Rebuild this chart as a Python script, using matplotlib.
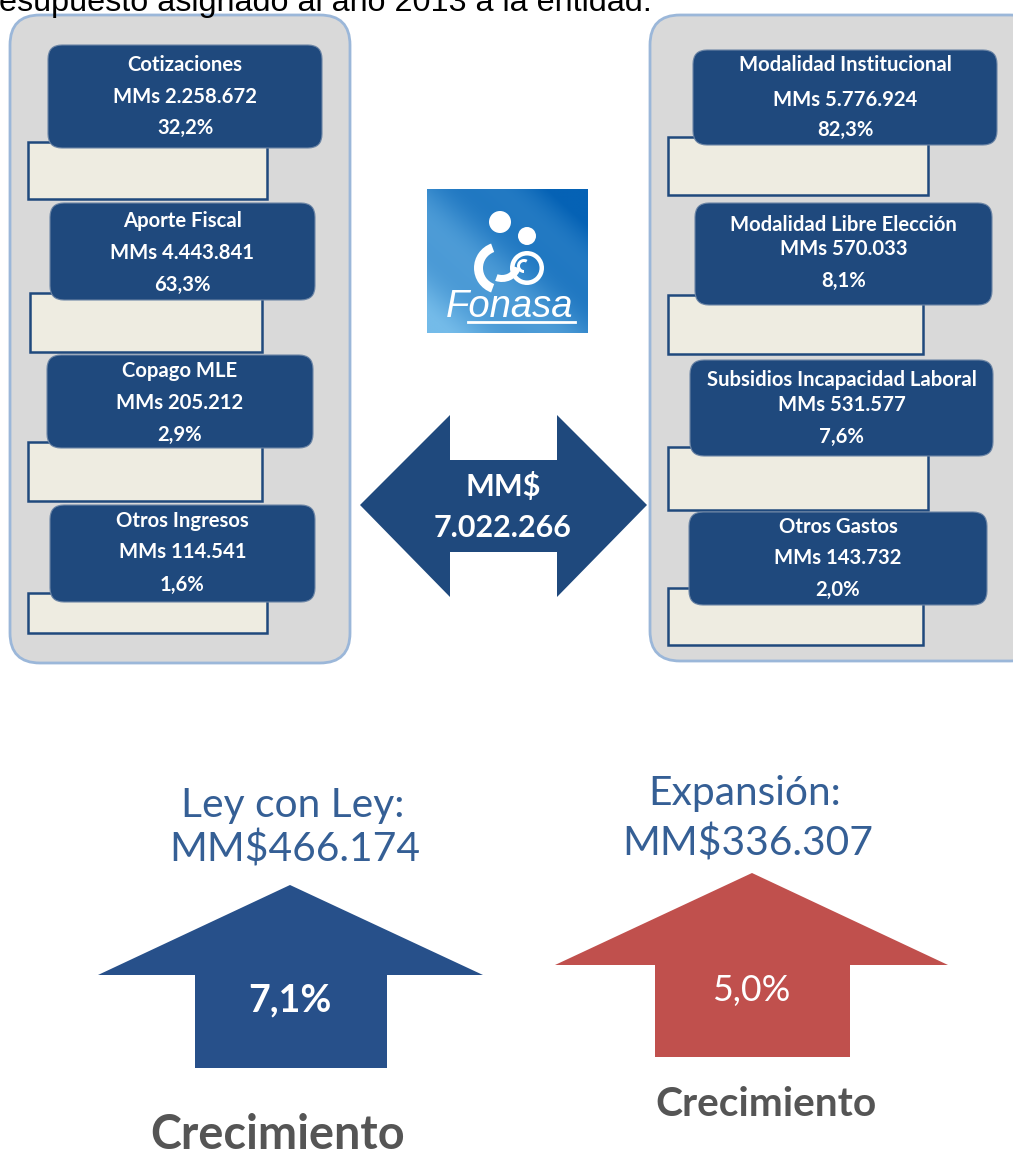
import matplotlib
matplotlib.use("Agg")
import matplotlib.pyplot as plt
from matplotlib.patches import FancyBboxPatch, Rectangle, Polygon, Circle, Wedge
import numpy as np

# ---------------- data ----------------
header_text = "esupuesto asignado al año 2013 a la entidad:"
ingresos_labels = ["Cotizaciones", "Aporte Fiscal", "Copago MLE", "Otros Ingresos"]
ingresos_montos = ["MMs 2.258.672", "MMs 4.443.841", "MMs 205.212", "MMs 114.541"]
ingresos_pct = ["32,2%", "63,3%", "2,9%", "1,6%"]
gastos_labels = ["Modalidad Institucional", "Modalidad Libre Elección",
                 "Subsidios Incapacidad Laboral", "Otros Gastos"]
gastos_montos = ["MMs 5.776.924", "MMs 570.033", "MMs 531.577", "MMs 143.732"]
gastos_pct = ["82,3%", "8,1%", "7,6%", "2,0%"]
total_label = "MM$"
total_value = "7.022.266"
growth_titles = ["Ley con Ley:", "Expansión:"]
growth_amounts = ["MM$466.174", "MM$336.307"]
growth_pct = ["7,1%", "5,0%"]
growth_caption = "Crecimiento"

# ---------------- figure ----------------
W, H = 1013, 1162
fig = plt.figure(figsize=(W / 100, H / 100), dpi=100)
ax = fig.add_axes([0, 0, 1, 1])
ax.set_xlim(0, W)
ax.set_ylim(H, 0)
ax.axis("off")
renderer = fig.canvas.get_renderer()

NAVY = "#1f497d"
BEIGE = "#eeece1"
PANEL = "#d9d9d9"
PANEL_EDGE = "#9bb7d9"
RED = "#c0504d"
TITLE = "#355f95"
GRAY = "#555555"

def fit_size(s, width, **kw):
    t = ax.text(0, 0, s, fontsize=10, **kw)
    w = t.get_window_extent(renderer=renderer).width
    t.remove()
    return 10 * width / w

def rbox(x0, y0, x1, y1, r, fc, ec="none", lw=0, z=1):
    p = FancyBboxPatch((x0, y0), x1 - x0, y1 - y0,
                       boxstyle=f"round,pad=0,rounding_size={r}",
                       fc=fc, ec=ec, lw=lw, zorder=z)
    ax.add_patch(p)

# ---------------- header (cut off at the top edge, as in the source) ----------------
hfs = fit_size(header_text, 655, family="Liberation Sans")
ax.text(-1, 11, header_text, fontsize=hfs, family="Liberation Sans",
        color="black", va="baseline", ha="left", zorder=5)

# ---------------- panels ----------------
rbox(10, 15, 350, 663, 30, PANEL, PANEL_EDGE, 2.0)
rbox(650, 15, 1040, 661, 30, PANEL, PANEL_EDGE, 2.0)

box_font = ["Lato", "DejaVu Sans"]
bfs = fit_size("Subsidios Incapacidad Laboral", 270, family=box_font, weight="bold")

left_blue = [(48, 45, 322, 148), (50, 203, 315, 300), (47, 355, 313, 448), (50, 505, 315, 602)]
left_beige = [(28, 142, 267, 199), (30, 293, 262, 352), (28, 442, 262, 501), (28, 593, 267, 633)]
left_ty = [(65, 97, 128), (221, 253, 285), (371, 403, 435), (521, 552, 585)]

right_blue = [(693, 50, 997, 145), (695, 203, 992, 305), (690, 360, 993, 456), (689, 512, 987, 605)]
right_beige = [(668, 137, 928, 195), (668, 295, 923, 354), (668, 447, 928, 510), (668, 588, 923, 645)]
right_ty = [(65, 100, 130), (225, 249, 281), (380, 405, 437), (527, 558, 590)]

def draw_column(blues, beiges, tys, labels, montos, pcts):
    for (bx0, by0, bx1, by1), (gx0, gy0, gx1, gy1), ty, lab, mon, pc in zip(
            blues, beiges, tys, labels, montos, pcts):
        ax.add_patch(Rectangle((gx0, gy0), gx1 - gx0, gy1 - gy0, fc=BEIGE,
                               ec=NAVY, lw=1.8, zorder=2))
        rbox(bx0, by0, bx1, by1, 14, NAVY, "#6d86a6", 0.8, z=3)
        cx = (bx0 + bx1) / 2
        for yy, s in zip(ty, (lab, mon, pc)):
            ax.text(cx, yy, s, fontsize=bfs, family=box_font, weight="bold",
                    color="white", ha="center", va="center", zorder=4)

draw_column(left_blue, left_beige, left_ty, ingresos_labels, ingresos_montos, ingresos_pct)
draw_column(right_blue, right_beige, right_ty, gastos_labels, gastos_montos, gastos_pct)

# ---------------- logo ----------------
lx0, ly0, lx1, ly1 = 427, 189, 588, 333
gx, gy = np.meshgrid(np.linspace(0, 1, 200), np.linspace(0, 1, 180))
tval = np.clip(0.55 * gx + 0.55 * (1 - gy) + 0.08 * np.sin(9 * (gx - gy)), 0, 1)
c_light = np.array([0x74, 0xbb, 0xe9]) / 255
c_dark = np.array([0x05, 0x62, 0xb5]) / 255
img = c_light[None, None, :] * (1 - tval[..., None]) + c_dark[None, None, :] * tval[..., None]
ax.imshow(img, extent=[lx0, lx1, ly1, ly0], origin="upper", zorder=2,
          interpolation="bilinear", aspect="auto")
ax.set_xlim(0, W)
ax.set_ylim(H, 0)
ax.add_patch(Circle((500, 222), 11, fc="white", ec="none", zorder=3))
ax.add_patch(Circle((527, 236), 9, fc="white", ec="none", zorder=3))
ax.add_patch(Wedge((500, 268), 26, 110, 250, width=9, fc="white", ec="none", zorder=3))
ax.add_patch(Wedge((502, 262), 20, 20, 110, width=7, fc="white", ec="none", zorder=3))
ax.add_patch(Wedge((527, 268), 17, 0, 360, width=4.5, fc="white", ec="none", zorder=3))
ax.add_patch(Wedge((524, 266), 7, 90, 300, width=3, fc="white", ec="none", zorder=3))
ffs = fit_size("Fonasa", 128, family="Liberation Sans", style="italic")
ax.text(510, 317, "Fonasa", fontsize=ffs, family="Liberation Sans", style="italic",
        color="white", ha="center", va="baseline", zorder=4)
ax.plot([468, 575], [322, 322], color="white", lw=2, zorder=4)

# ---------------- central double arrow ----------------
arrow = [(360, 505), (450, 415), (450, 460), (557, 460), (557, 415), (647, 505),
         (557, 597), (557, 552), (450, 552), (450, 597)]
ax.add_patch(Polygon(arrow, closed=True, fc=NAVY, ec="none", zorder=3))
cfs = fit_size(total_value, 139, family=box_font, weight="bold")
ax.text(503, 487, total_label, fontsize=cfs, family=box_font, weight="bold",
        color="white", ha="center", va="center", zorder=4)
ax.text(503, 528, total_value, fontsize=cfs, family=box_font, weight="bold",
        color="white", ha="center", va="center", zorder=4)

# ---------------- growth arrows ----------------
def up_arrow(tipx, tipy, wing_y, wx0, wx1, sx0, sx1, bottom, color):
    pts = [(tipx, tipy), (wx1, wing_y), (sx1, wing_y), (sx1, bottom),
           (sx0, bottom), (sx0, wing_y), (wx0, wing_y)]
    ax.add_patch(Polygon(pts, closed=True, fc=color, ec="none", zorder=3))

up_arrow(290, 885, 975, 98, 483, 195, 387, 1068, "#27508a")
up_arrow(752, 873, 965, 555, 948, 655, 850, 1057, RED)

tfs = fit_size(growth_titles[0], 223, family=box_font)
ax.text(293, 805, growth_titles[0], fontsize=tfs, family=box_font, color=TITLE,
        ha="center", va="center", zorder=4)
ax.text(295, 850, growth_amounts[0], fontsize=tfs, family=box_font, color=TITLE,
        ha="center", va="center", zorder=4)
ax.text(745, 793, growth_titles[1], fontsize=tfs, family=box_font, color=TITLE,
        ha="center", va="center", zorder=4)
ax.text(748, 843, growth_amounts[1], fontsize=tfs, family=box_font, color=TITLE,
        ha="center", va="center", zorder=4)

pfs = fit_size(growth_pct[0], 83, family=box_font, weight="bold")
ax.text(290, 1000, growth_pct[0], fontsize=pfs, family=box_font, weight="bold",
        color="white", ha="center", va="center", zorder=4)
ax.text(751, 990, growth_pct[1], fontsize=pfs * 0.95, family=box_font,
        color="white", ha="center", va="center", zorder=4)

gfs = fit_size(growth_caption, 255, family=box_font, weight="bold")
ax.text(278, 1135, growth_caption, fontsize=gfs, family=box_font, weight="bold",
        color=GRAY, ha="center", va="center", zorder=4)
ax.text(766, 1104, growth_caption, fontsize=gfs * 0.87, family=box_font, weight="bold",
        color=GRAY, ha="center", va="center", zorder=4)

fig.savefig("out.png", dpi=100, facecolor="white")
